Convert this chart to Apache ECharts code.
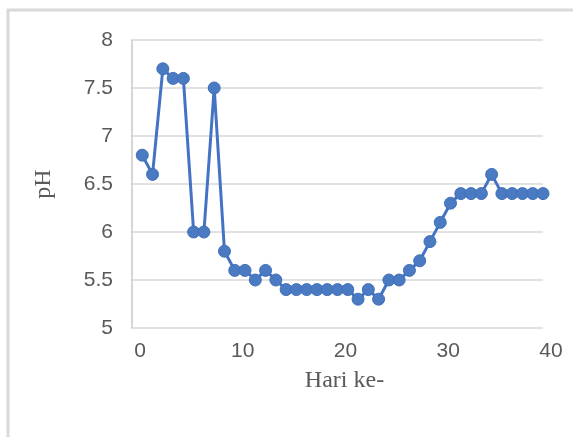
<!DOCTYPE html>
<html>
<head>
<meta charset="utf-8">
<script src="https://cdn.jsdelivr.net/npm/echarts@6/dist/echarts.min.js"></script>
<style>
  html, body { margin: 0; padding: 0; background: #ffffff; }
  #chart { width: 573px; height: 437px; }
</style>
</head>
<body>
<div id="chart"></div>
<script>
// Daily pH readings, day 1 to day 40
const days = [1, 2, 3, 4, 5, 6, 7, 8, 9, 10,
              11, 12, 13, 14, 15, 16, 17, 18, 19, 20,
              21, 22, 23, 24, 25, 26, 27, 28, 29, 30,
              31, 32, 33, 34, 35, 36, 37, 38, 39, 40];
const phValues = [6.8, 6.6, 7.7, 7.6, 7.6, 6.0, 6.0, 7.5, 5.8, 5.6,
                  5.6, 5.5, 5.6, 5.5, 5.4, 5.4, 5.4, 5.4, 5.4, 5.4,
                  5.4, 5.3, 5.4, 5.3, 5.5, 5.5, 5.6, 5.7, 5.9, 6.1,
                  6.3, 6.4, 6.4, 6.4, 6.6, 6.4, 6.4, 6.4, 6.4, 6.4];
const xTicks = [0, 10, 20, 30, 40];
const yTicks = [5, 5.5, 6, 6.5, 7, 7.5, 8];

const points = days.map((d, i) => [d, phValues[i]]);

const chart = echarts.init(document.getElementById('chart'), null, { renderer: 'canvas' });

const tickFont = {
  color: '#595959',
  fontFamily: 'Liberation Sans, Arial, sans-serif',
  fontSize: 21
};

chart.setOption({
  backgroundColor: '#ffffff',
  animation: false,
  graphic: [{
    type: 'rect',
    shape: { x: 8, y: 10, width: 600, height: 500 },
    style: { fill: 'none', stroke: '#d9d9d9', lineWidth: 3 },
    silent: true
  }],
  grid: { left: 132, right: 30, top: 40, bottom: 109 },
  xAxis: {
    type: 'value',
    min: xTicks[0],
    max: xTicks[xTicks.length - 1],
    interval: xTicks[1] - xTicks[0],
    name: 'Hari ke-',
    nameLocation: 'middle',
    nameGap: 41,
    nameTextStyle: {
      color: '#595959',
      fontFamily: 'Liberation Serif, Times New Roman, serif',
      fontSize: 24,
      padding: [0, 0, 0, 14]
    },
    axisLine: { show: false },
    axisTick: { show: false },
    splitLine: { show: false },
    axisLabel: Object.assign({ margin: 13, padding: [0, 0, 0, 16] }, tickFont)
  },
  yAxis: {
    type: 'value',
    min: yTicks[0],
    max: yTicks[yTicks.length - 1],
    interval: yTicks[1] - yTicks[0],
    name: 'pH',
    nameLocation: 'middle',
    nameGap: 76,
    nameTextStyle: {
      color: '#595959',
      fontFamily: 'Liberation Serif, Times New Roman, serif',
      fontSize: 24
    },
    axisLine: { show: true, lineStyle: { color: '#c8c8c8', width: 1.5 } },
    axisTick: { show: false },
    splitLine: { show: true, lineStyle: { color: '#d9d9d9', width: 1.5 } },
    axisLabel: Object.assign({ margin: 19 }, tickFont)
  },
  series: [{
    type: 'line',
    data: points,
    symbol: 'circle',
    symbolSize: 12,
    lineStyle: { color: '#4472c4', width: 3 },
    itemStyle: { color: '#4a7bc2', borderColor: '#4170b8', borderWidth: 1 }
  }]
});
</script>
</body>
</html>
